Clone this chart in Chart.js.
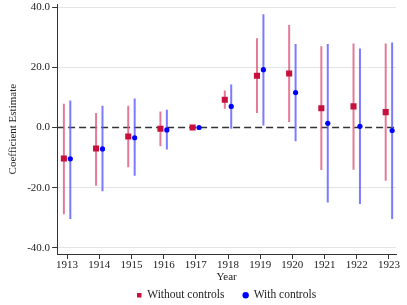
<!DOCTYPE html>
<html><head><meta charset="utf-8">
<script src="https://cdn.jsdelivr.net/npm/chart.js@4/dist/chart.umd.min.js"></script>
<style>html,body{margin:0;padding:0;background:#fff}#wrap{width:407px;height:305px}</style>
</head><body><div id="wrap"><canvas id="c" width="407" height="305"></canvas></div>
<script>
const years = [1913,1914,1915,1916,1917,1918,1919,1920,1921,1922,1923];
const noCtrlEst = [-10.3,-7.0,-3.0,-0.4,0,9.2,17.2,17.9,6.4,7.0,5.1];
const noCtrlLo  = [-28.8,-19.3,-13.2,-6.2,0,6.2,4.8,1.8,-14.1,-14.0,-17.7];
const noCtrlHi  = [7.9,4.8,7.2,5.3,0,12.3,29.6,34.0,27.0,27.9,27.9];
const ctrlEst = [-10.4,-7.1,-3.4,-0.8,0,7.0,19.2,11.6,1.4,0.4,-1.0];
const ctrlLo  = [-30.4,-21.2,-16.0,-7.3,0,-0.4,0.7,-4.6,-24.9,-25.4,-30.4];
const ctrlHi  = [9.0,7.2,9.6,5.9,0,14.3,37.6,27.7,27.7,26.2,28.2];
const yTicks = [-40,-20,0,20,40];
const offset = 0.1;

function ciSegments(lo, hi, dx){
  const out=[];
  years.forEach((yr,i)=>{
    if(lo[i]===hi[i]) return;
    out.push({x:yr+dx,y:lo[i]},{x:yr+dx,y:hi[i]},{x:yr+dx,y:null});
  });
  return out;
}
const serif = "'Liberation Serif', 'DejaVu Serif', serif";
Chart.defaults.font.family = serif;
Chart.defaults.color = '#222';

new Chart(document.getElementById('c'), {
  type:'scatter',
  data:{datasets:[
    {label:'Without controls', data:years.map((yr,i)=>({x:yr-offset,y:noCtrlEst[i]})), pointStyle:'rect', pointRadius:4.3, backgroundColor:'#c8103c', borderColor:'#c8103c', borderWidth:0, order:2},
    {label:'With controls', data:years.map((yr,i)=>({x:yr+offset,y:ctrlEst[i]})), pointStyle:'circle', pointRadius:2.6, backgroundColor:'#0000ff', borderColor:'#0000ff', borderWidth:0, order:1},
    {label:'zero', type:'line', data:[{x:1912.69,y:0},{x:1923.22,y:0}], borderColor:'#333', borderWidth:1.5, borderDash:[7,4], pointRadius:0, order:5},
    {label:'ci1', type:'line', data:ciSegments(noCtrlLo,noCtrlHi,-offset), borderColor:'rgba(220,90,125,0.8)', borderWidth:2, pointRadius:0, spanGaps:false, order:4},
    {label:'ci2', type:'line', data:ciSegments(ctrlLo,ctrlHi,offset), borderColor:'rgba(90,90,255,0.8)', borderWidth:2, pointRadius:0, spanGaps:false, order:3}
  ]},
  options:{
    responsive:false, animation:false, maintainAspectRatio:false,
    layout:{padding:{left:7,right:11,top:0,bottom:0}},
    plugins:{
      tooltip:{enabled:false},
      legend:{position:'bottom', fullSize:false, maxHeight:34.5,
        labels:{filter:(it)=>it.text==='Without controls'||it.text==='With controls', sort:(a,b)=>a.datasetIndex-b.datasetIndex,
          usePointStyle:true, font:{size:11.5, lineHeight:1}, boxWidth:4.5, boxHeight:4.5, padding:19, color:'#222'}}
    },
    scales:{
      x:{type:'linear', min:1912.69, max:1923.22,
        afterBuildTicks:(s)=>{s.ticks=years.map(v=>({value:v}));},
        afterFit:(s)=>{s.height=16.5;},
        ticks:{callback:v=>String(v), font:{size:11}, color:'#222', maxRotation:0, autoSkip:false, padding:0},
        grid:{drawOnChartArea:false, drawTicks:true, tickLength:5, tickColor:'#333'},
        border:{color:'#333', width:1},
        title:{display:true, text:'Year', font:{size:11, lineHeight:1}, padding:{top:0,bottom:-12}, color:'#222'}
      },
      y:{min:-42, max:40.9,
        afterBuildTicks:(s)=>{s.ticks=yTicks.map(v=>({value:v}));},
        afterFit:(s)=>{s.paddingTop=0; s.paddingBottom=0;},
        ticks:{callback:v=>v.toFixed(1), font:{size:11}, color:'#222', padding:2},
        grid:{color:(c)=>c.tick && c.tick.value===0?'rgba(0,0,0,0)':'#e4e4e4', tickColor:'#333', tickLength:5, lineWidth:1},
        border:{color:'#333', width:1},
        title:{display:true, text:'Coefficient Estimate', font:{size:11}, padding:{top:0,bottom:5}, color:'#222'}
      }
    }
  }
});
</script></body></html>
